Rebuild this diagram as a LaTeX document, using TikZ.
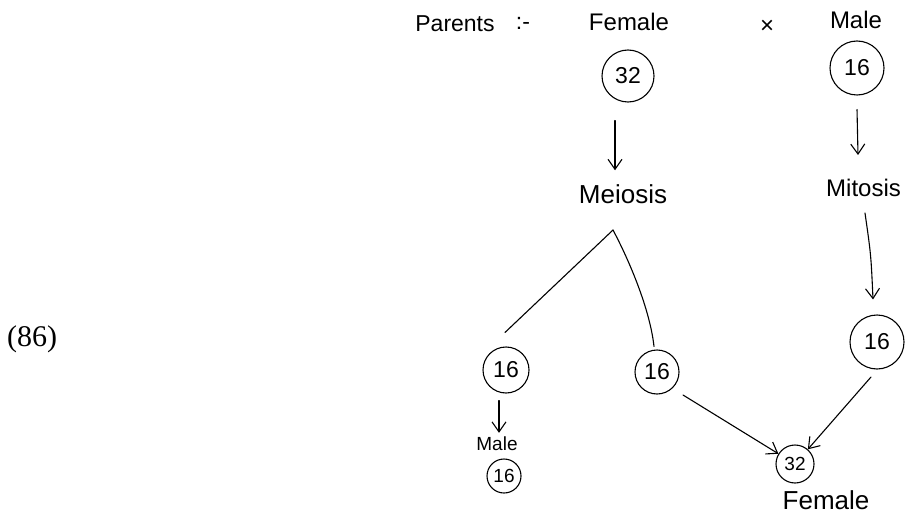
\documentclass[tikz,border=0pt]{standalone}
\usepackage{fontspec}
\setmainfont{Liberation Sans}
\newfontfamily\numfont{Liberation Serif}
\usetikzlibrary{arrows.meta}
\newcommand{\fs}[1]{\fontsize{#1}{#1}\selectfont}
\begin{document}
\begin{tikzpicture}[x=1pt,y=-1pt,
  ink/.style={line width=1.1pt,line cap=round,line join=round},
  cell/.style={circle,draw,ink,inner sep=0pt,font=\fs{23}},
  hand/.style={inner sep=0pt,font=\fs{23}},
  arr/.style={ink,-{Straight Barb[length=10pt,width=14pt,line width=1.1pt]}}]
\useasboundingbox (0,0) rectangle (909,513);

% number label on the left
\node[inner sep=0pt,font=\numfont\fs{30}] (num) at (32,339) {(86)};

% parents row
\node[hand] (parents) at (455,24) {Parents};
\node[hand] (colon) at (523,23) {:-};
\node[hand,font=\fs{24}] (femtop) at (629,22) {Female};
\node[hand,font=\fs{24}] (cross) at (767,27) {×};
\node[hand,font=\fs{24}] (maletop) at (856,20) {Male};

% parent cells
\node[cell,minimum size=52pt] (f32) at (628,76) {32};
\node[cell,minimum size=54pt] (m16) at (857,68) {16};

% divisions
\node[hand,font=\fs{26}] (meiosis) at (623,194) {Meiosis};
\node[hand,font=\fs{24},anchor=west] (mitosis) at (826,188) {Mitosis};

\draw[arr] ([xshift=-13pt,yshift=-18pt]f32.south) -- ([xshift=-8pt,yshift=14pt]meiosis.north);
\draw[arr] ([yshift=-14pt]m16.south) -- ([xshift=32pt,yshift=24pt]mitosis.north west);

% gametes
\coordinate (apex) at (613,230);
\node[cell,minimum size=46pt] (g1) at (506,370) {16};
\node[cell,minimum size=44pt] (g2) at (657,372) {16};
\node[cell,minimum size=54pt] (g3) at (877,342) {16};

\draw[ink] (apex) -- ([xshift=-1pt,yshift=14pt]g1.north);
\draw[ink] (apex) .. controls (630,262) and (650,310) .. ([xshift=-3pt,yshift=3pt]g2.north);
\draw[arr] ([xshift=39pt,yshift=-16pt]mitosis.south west) .. controls (871,255) .. ([xshift=-4pt,yshift=15pt]g3.north);

% male offspring
\node[hand,font=\fs{19}] (maleoff) at (497,444) {Male};
\node[cell,minimum size=34pt,font=\fs{19}] (g4) at (504,476) {16};
\draw[arr] ([xshift=-7pt,yshift=-7pt]g1.south) -- ([xshift=2pt,yshift=4pt]maleoff.north);

% female offspring
\node[cell,minimum size=38pt,font=\fs{19}] (z32) at (795,464) {32};
\node[hand,font=\fs{26}] (femoff) at (826,500) {Female};
\draw[arr] ([xshift=26pt,yshift=-23pt]g2.center) -- (z32);
\draw[arr] ([xshift=-6pt,yshift=-35pt]g3.center) -- (z32);
\end{tikzpicture}
\end{document}
